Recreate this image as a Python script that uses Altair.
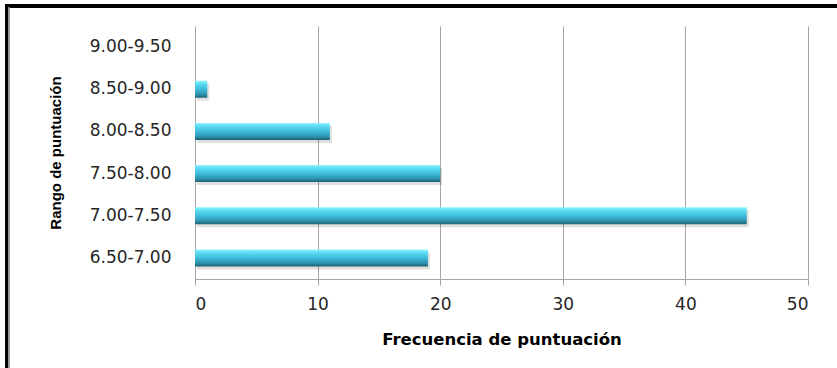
import altair as alt
import pandas as pd

# Score ranges (bottom to top) and how many scores fell in each
rangos = ["6.50-7.00", "7.00-7.50", "7.50-8.00", "8.00-8.50", "8.50-9.00", "9.00-9.50"]
frecuencias = [19, 45, 20, 11, 1, 0]
ticks_x = [0, 10, 20, 30, 40, 50]

df = pd.DataFrame({"rango": rangos, "frecuencia": frecuencias})
orden = list(reversed(rangos))

W, H = 613, 253
LEFT, TOP = 195, 26

x_enc = alt.X(
    "frecuencia:Q",
    scale=alt.Scale(domain=[0, 50], nice=False),
    axis=alt.Axis(
        values=ticks_x,
        title="Frecuencia de puntuación",
        grid=True,
        gridColor="#a6a6a6",
        gridWidth=1,
        domainColor="#a6a6a6",
        tickColor="#a6a6a6",
        tickSize=6,
        labelFont="DejaVu Sans",
        labelFontSize=17,
        labelColor="#262626",
        labelPadding=11,
        titleFont="DejaVu Sans",
        titleFontSize=16.5,
        titleFontWeight="bold",
        titleColor="#000000",
        titlePadding=19,
    ),
)
y_enc = alt.Y(
    "rango:N",
    sort=orden,
    scale=alt.Scale(paddingInner=0.6, paddingOuter=0.3),
    axis=alt.Axis(
        title="Rango de puntuación",
        domain=False,
        ticks=False,
        grid=False,
        labelFont="DejaVu Sans",
        labelFontSize=17,
        labelColor="#262626",
        labelPadding=24,
        titleFont="Liberation Sans",
        titleFontSize=15,
        titleFontWeight="bold",
        titleColor="#000000",
        titleAngle=-90,
        titleX=-140,
        titleY=H / 2,
        titleAlign="center",
        titleBaseline="middle",
    ),
)

barra_color = alt.Gradient(
    gradient="linear",
    x1=0, x2=0, y1=0, y2=1,
    stops=[
        alt.GradientStop(offset=0.0, color="#8ff6ff"),
        alt.GradientStop(offset=0.18, color="#5ddcf4"),
        alt.GradientStop(offset=0.5, color="#3fbcdb"),
        alt.GradientStop(offset=0.8, color="#2e93ae"),
        alt.GradientStop(offset=1.0, color="#1d6275"),
    ],
)

sombra = alt.Chart(df).mark_bar(
    color="#000000", opacity=0.12, size=17, xOffset=2, yOffset=3
).encode(x=x_enc, y=y_enc)

barras = alt.Chart(df).mark_bar(color=barra_color, size=17).encode(x=x_enc, y=y_enc)

# Frame lines along the top and left edges
borde_sup = alt.Chart(df).mark_rule(color="#000000", strokeWidth=3).encode(
    x=alt.value(-190), x2=alt.value(W + 40), y=alt.value(-20)
)
borde_izq = alt.Chart(df).mark_rule(color="#000000", strokeWidth=3).encode(
    x=alt.value(-188), y=alt.value(-21.5), y2=alt.value(H + 100)
)
borde_gris = alt.Chart(df).mark_rule(color="#9a9a9a", strokeWidth=1).encode(
    x=alt.value(-186), y=alt.value(-18.5), y2=alt.value(H + 100)
)

chart = (
    alt.layer(sombra, barras, borde_sup, borde_izq, borde_gris)
    .properties(
        width=W,
        height=H,
        autosize=alt.AutoSizeParams(type="none"),
        padding={"left": LEFT, "top": TOP, "right": 837 - LEFT - W, "bottom": 368 - TOP - H},
        background="#ffffff",
    )
    .configure_view(stroke=None)
)

chart.save("out.html", embed_options={"renderer": "svg", "actions": False})
